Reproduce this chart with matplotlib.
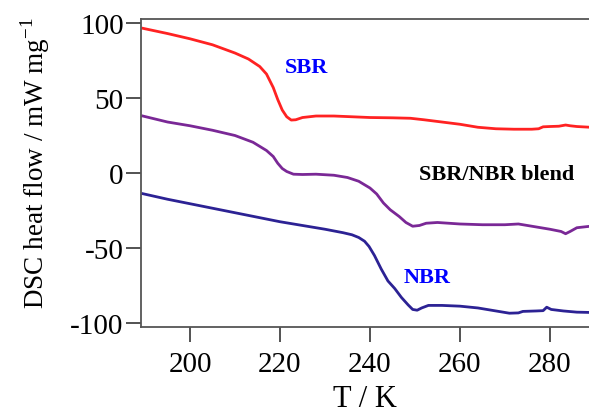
import matplotlib
matplotlib.use("Agg")
import matplotlib.pyplot as plt

plt.rcParams['font.family'] = ['Liberation Serif', 'DejaVu Serif']
plt.rcParams['mathtext.fontset'] = 'custom'
plt.rcParams['mathtext.rm'] = 'Liberation Serif'
plt.rcParams['axes.unicode_minus'] = False

sbr_T = [189.5, 195, 200, 205, 210, 213, 215.5, 217, 218.5, 219.5, 220.5, 221.5, 222.5, 223.5, 225, 228,
         232, 236, 240, 245, 249, 252, 256, 260, 264, 268, 272, 276, 277.5, 278.5, 280, 282, 283.5, 284.5, 286, 289]
sbr_Y = [96.5, 93, 89.5, 85.5, 80, 76, 71, 66, 57, 49, 42, 37.5, 35.3, 35.5, 37, 38,
         38, 37.5, 37, 36.8, 36.5, 35.5, 34, 32.5, 30.5, 29.5, 29.2, 29.2, 29.5, 30.8, 31, 31.2, 32, 31.5, 31, 30.5]

blend_T = [189.5, 195, 200, 205, 210, 214, 217, 218.5, 219.5, 220.5, 221.5, 223, 225, 228, 232, 235, 237.5,
           240, 241.5, 243, 244.5, 246.5, 248, 249.5, 251, 252.5, 255, 260, 265, 270, 273, 276, 280, 282.5,
           283.5, 284.5, 286, 289]
blend_Y = [38, 34, 31.5, 28.5, 25, 20.5, 15, 11, 6.5, 3, 1, -0.8, -1, -0.8, -1.5, -3, -5.5,
           -10, -14, -20, -24.5, -29, -33, -35.5, -35, -33.5, -33, -34, -34.5, -34.5, -34, -35.5, -37.5, -39,
           -40.5, -39, -36.5, -35.5]

nbr_T = [189.5, 195, 200, 205, 210, 215, 220, 225, 230, 234, 236, 237.5, 238.8, 239.8, 241, 242.5, 244, 245.5, 247,
         248.5, 249.5, 250.5, 251.5, 253, 256, 260, 264, 268, 271, 273, 274, 277, 278.5, 279.3, 280.3, 283,
         286, 289]
nbr_Y = [-13.8, -17.5, -20.5, -23.5, -26.5, -29.5, -32.5, -35, -37.5, -39.8, -41.2, -43, -45.5, -49, -55, -64, -72, -77, -83,
         -88, -91, -91.5, -90, -88.3, -88.3, -88.8, -90, -92, -93.5, -93.3, -92.3, -92, -91.8, -89.5, -91, -92,
         -92.8, -93]

x_ticks = [200, 220, 240, 260, 280]
y_ticks = [-100, -50, 0, 50, 100]

fig = plt.figure(figsize=(5.89, 4.14), dpi=100)
ax = fig.add_axes([141/589, 1-328/414, 1-141/589, (328-20)/414])

ax.plot(sbr_T, sbr_Y, color='#ff2222', lw=2)
ax.plot(blend_T, blend_Y, color='#7a2896', lw=2)
ax.plot(nbr_T, nbr_Y, color='#2c2294', lw=2)

ax.text(225.8, 70.5, 'SBR', color='#0000ff', fontweight='bold', fontsize=16, ha='center', va='center')
ax.text(268.2, -0.9, 'SBR/NBR blend', color='black', fontweight='bold', fontsize=16, ha='center', va='center')
ax.text(252.7, -69.5, 'NBR', color='#0000ff', fontweight='bold', fontsize=16, ha='center', va='center')

ax.set_xlim(189.1, 288.7)
ax.set_ylim(-102.7, 102.7)
ax.set_xticks(x_ticks)
ax.set_yticks(y_ticks)
ax.tick_params(direction='out', length=11, width=1.3, color='#444444', labelsize=21)
ax.tick_params(axis='y', pad=1.5)
ax.tick_params(axis='x', pad=6)
for s in ['left', 'bottom', 'top']:
    ax.spines[s].set_color('#555555')
    ax.spines[s].set_linewidth(1.3)
ax.spines['right'].set_visible(False)

ax.set_xlabel('T / K', fontsize=22, labelpad=5)
ax.set_ylabel('DSC heat flow / mW mg$^{\\mathrm{-1}}$', fontsize=19.5)
ax.yaxis.set_label_coords(-0.199, 0.535)

fig.savefig('out.png', dpi=100)
